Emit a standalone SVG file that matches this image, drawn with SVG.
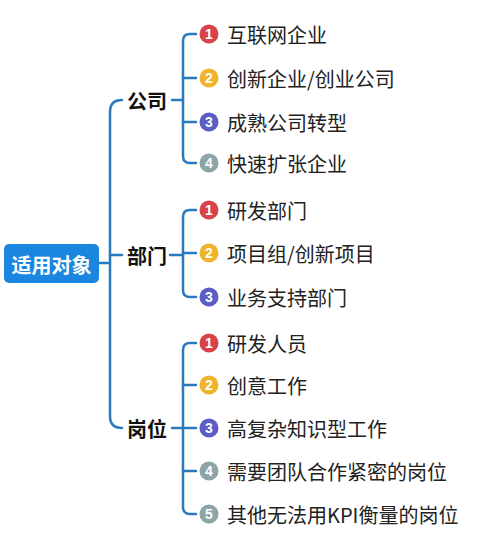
<svg xmlns="http://www.w3.org/2000/svg" width="487" height="538" viewBox="0 0 487 538">
<style>
.ln{fill:none;stroke:#2a78bd;stroke-width:2.5;stroke-linecap:round}
.t{font-family:"Noto Sans CJK SC","Noto Sans",sans-serif;font-size:20px;fill:#222;dominant-baseline:central}
.b{font-family:"Noto Sans CJK SC","Noto Sans",sans-serif;font-size:20px;font-weight:bold;fill:#111;dominant-baseline:central}
.n{font-family:"Liberation Sans","Noto Sans",sans-serif;font-size:14px;font-weight:bold;fill:#fff;text-anchor:middle;dominant-baseline:central}
.c1{fill:#d8434b}.c2{fill:#efb42c}.c3{fill:#5a5ec6}.c4{fill:#8ea5a8}.c5{fill:#8ea5a8}
</style>
<rect width="487" height="538" fill="#ffffff"/>
<g id="connectors">
<path class="ln" d="M99 263 H110"/>
<path class="ln" d="M122 100 Q110 100 110 112 V416 Q110 428 122 428"/>
<path class="ln" d="M110 255 H122"/>
<path class="ln" d="M172 100 H183"/>
<path class="ln" d="M196 34 H190 Q183 34 183 41 V156 Q183 163 190 163 H196"/>
<path class="ln" d="M183 78 H196 M183 122 H196"/>
<path class="ln" d="M170 255 H183"/>
<path class="ln" d="M196 210 H190 Q183 210 183 217 V290 Q183 297 190 297 H196"/>
<path class="ln" d="M183 253 H196"/>
<path class="ln" d="M172 428 H183"/>
<path class="ln" d="M196 343 H190 Q183 343 183 350 V507 Q183 514 190 514 H196"/>
<path class="ln" d="M183 385 H196 M183 428 H196 M183 471 H196"/>
</g>
<g id="root">
<rect x="4" y="244" width="95" height="39" rx="5" fill="#1b86df"/>
<text x="51.5" y="264" class="b" style="fill:#fff" text-anchor="middle">适用对象</text>
</g>
<g id="gongsi"><text x="127" y="100" class="b">公司</text></g>
<g id="bumen"><text x="127" y="255" class="b">部门</text></g>
<g id="gangwei"><text x="127" y="428" class="b">岗位</text></g>
<g id="gs1"><circle cx="209" cy="34" r="9.5" class="c1"/><text x="209" y="34" class="n">1</text><text x="227" y="34" class="t">互联网企业</text></g>
<g id="gs2"><circle cx="209" cy="78" r="9.5" class="c2"/><text x="209" y="78" class="n">2</text><text x="227" y="78" class="t">创新企业/创业公司</text></g>
<g id="gs3"><circle cx="209" cy="122" r="9.5" class="c3"/><text x="209" y="122" class="n">3</text><text x="227" y="122" class="t">成熟公司转型</text></g>
<g id="gs4"><circle cx="209" cy="163" r="9.5" class="c4"/><text x="209" y="163" class="n">4</text><text x="227" y="163" class="t">快速扩张企业</text></g>
<g id="bm1"><circle cx="209" cy="210" r="9.5" class="c1"/><text x="209" y="210" class="n">1</text><text x="227" y="210" class="t">研发部门</text></g>
<g id="bm2"><circle cx="209" cy="253" r="9.5" class="c2"/><text x="209" y="253" class="n">2</text><text x="227" y="253" class="t">项目组/创新项目</text></g>
<g id="bm3"><circle cx="209" cy="297" r="9.5" class="c3"/><text x="209" y="297" class="n">3</text><text x="227" y="297" class="t">业务支持部门</text></g>
<g id="gw1"><circle cx="209" cy="343" r="9.5" class="c1"/><text x="209" y="343" class="n">1</text><text x="227" y="343" class="t">研发人员</text></g>
<g id="gw2"><circle cx="209" cy="385" r="9.5" class="c2"/><text x="209" y="385" class="n">2</text><text x="227" y="385" class="t">创意工作</text></g>
<g id="gw3"><circle cx="209" cy="428" r="9.5" class="c3"/><text x="209" y="428" class="n">3</text><text x="227" y="428" class="t">高复杂知识型工作</text></g>
<g id="gw4"><circle cx="209" cy="471" r="9.5" class="c4"/><text x="209" y="471" class="n">4</text><text x="227" y="471" class="t">需要团队合作紧密的岗位</text></g>
<g id="gw5"><circle cx="209" cy="514" r="9.5" class="c5"/><text x="209" y="514" class="n">5</text><text x="227" y="514" class="t">其他无法用KPI衡量的岗位</text></g>
</svg>
